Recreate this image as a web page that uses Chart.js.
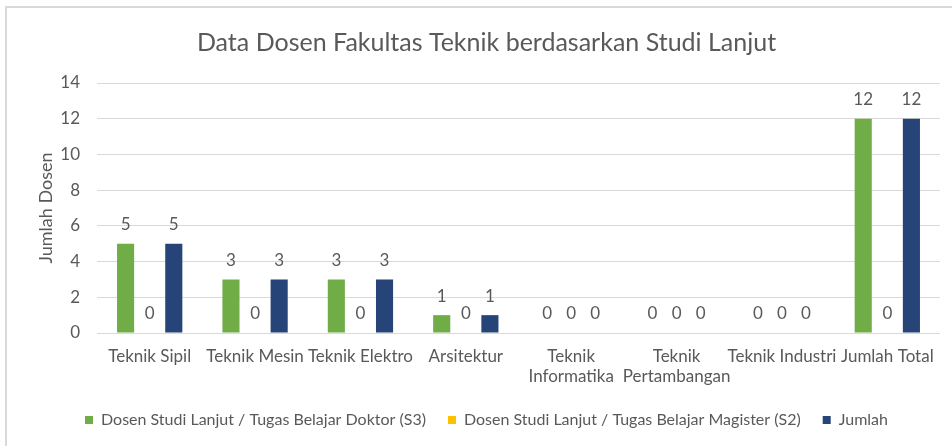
<!DOCTYPE html>
<html>
<head>
<meta charset="utf-8">
<script src="https://cdn.jsdelivr.net/npm/chart.js@4.4.1/dist/chart.umd.min.js"></script>
<style>
  html, body { margin: 0; padding: 0; background: #fff; }
  #wrap { position: relative; width: 952px; height: 446px; }
  #frame { position: absolute; left: 5px; top: 6px; width: 960px; height: 460px; border: 2px solid #d9d9d9; box-sizing: border-box; pointer-events: none; }
</style>
</head>
<body>
<div id="wrap">
  <canvas id="chart" width="952" height="446"></canvas>
  <div id="frame"></div>
</div>
<script>
const categories = ['Teknik Sipil', 'Teknik Mesin', 'Teknik Elektro', 'Arsitektur',
    ['Teknik', 'Informatika'], ['Teknik', 'Pertambangan'], 'Teknik Industri', 'Jumlah Total'];
const doktorS3 = [5, 3, 3, 1, 0, 0, 0, 12];
const magisterS2 = [0, 0, 0, 0, 0, 0, 0, 0];
const jumlah = [5, 3, 3, 1, 0, 0, 0, 12];
const yTicks = [0, 2, 4, 6, 8, 10, 12, 14];

const textColor = '#595959';
const fontFamily = 'Lato, "Open Sans", sans-serif';

// draws the value above each bar, zeros included
const valueLabels = {
    id: 'valueLabels',
    afterDatasetsDraw: function(chart) {
        const ctx = chart.ctx;
        ctx.save();
        ctx.fillStyle = textColor;
        ctx.font = '17px ' + fontFamily;
        ctx.textAlign = 'center';
        ctx.textBaseline = 'middle';
        chart.data.datasets.forEach((ds, i) => {
            chart.getDatasetMeta(i).data.forEach((bar, j) => {
                ctx.fillText(String(ds.data[j]), bar.x, bar.y - 19);
            });
        });
        ctx.restore();
    }
};

new Chart(document.getElementById('chart'), {
    type: 'bar',
    data: {
        labels: categories,
        datasets: [
            { label: 'Dosen Studi Lanjut / Tugas Belajar Doktor (S3)', data: doktorS3, backgroundColor: '#70ad47' },
            { label: 'Dosen Studi Lanjut / Tugas Belajar Magister (S2)', data: magisterS2, backgroundColor: '#ffc000' },
            { label: 'Jumlah', data: jumlah, backgroundColor: '#264478' }
        ]
    },
    options: {
        responsive: false,
        animation: false,
        categoryPercentage: 0.686,
        barPercentage: 0.71,
        layout: { padding: { left: 33, right: 12, top: 8, bottom: 8 } },
        plugins: {
            title: {
                display: true,
                text: 'Data Dosen Fakultas Teknik berdasarkan Studi Lanjut',
                color: textColor,
                font: { family: fontFamily, size: 25, weight: 'normal' },
                padding: { top: 20, bottom: 25 }
            },
            legend: {
                position: 'bottom',
                labels: {
                    color: textColor,
                    font: { family: fontFamily, size: 16 },
                    usePointStyle: true,
                    pointStyle: 'rect',
                    boxWidth: 8,
                    boxHeight: 8,
                    padding: 22
                }
            },
            tooltip: { enabled: false }
        },
        scales: {
            x: {
                grid: { display: false },
                border: { display: false },
                ticks: {
                    color: textColor,
                    font: { family: fontFamily, size: 17 },
                    maxRotation: 0,
                    autoSkip: false,
                    padding: 5
                },
                afterFit: function(scale) { scale.height = 57; }
            },
            y: {
                min: 0,
                max: 14,
                afterBuildTicks: function(scale) { scale.ticks = yTicks.map(v => ({ value: v })); },
                grid: { color: '#d9d9d9', drawTicks: false },
                border: { display: false },
                ticks: {
                    color: textColor,
                    font: { family: fontFamily, size: 17 },
                    padding: 17
                },
                title: {
                    display: true,
                    text: 'Jumlah Dosen',
                    color: textColor,
                    font: { family: fontFamily, size: 18 },
                    padding: 2
                },
                afterFit: function(scale) { scale.width = 64; }
            }
        }
    },
    plugins: [valueLabels]
});
</script>
</body>
</html>
